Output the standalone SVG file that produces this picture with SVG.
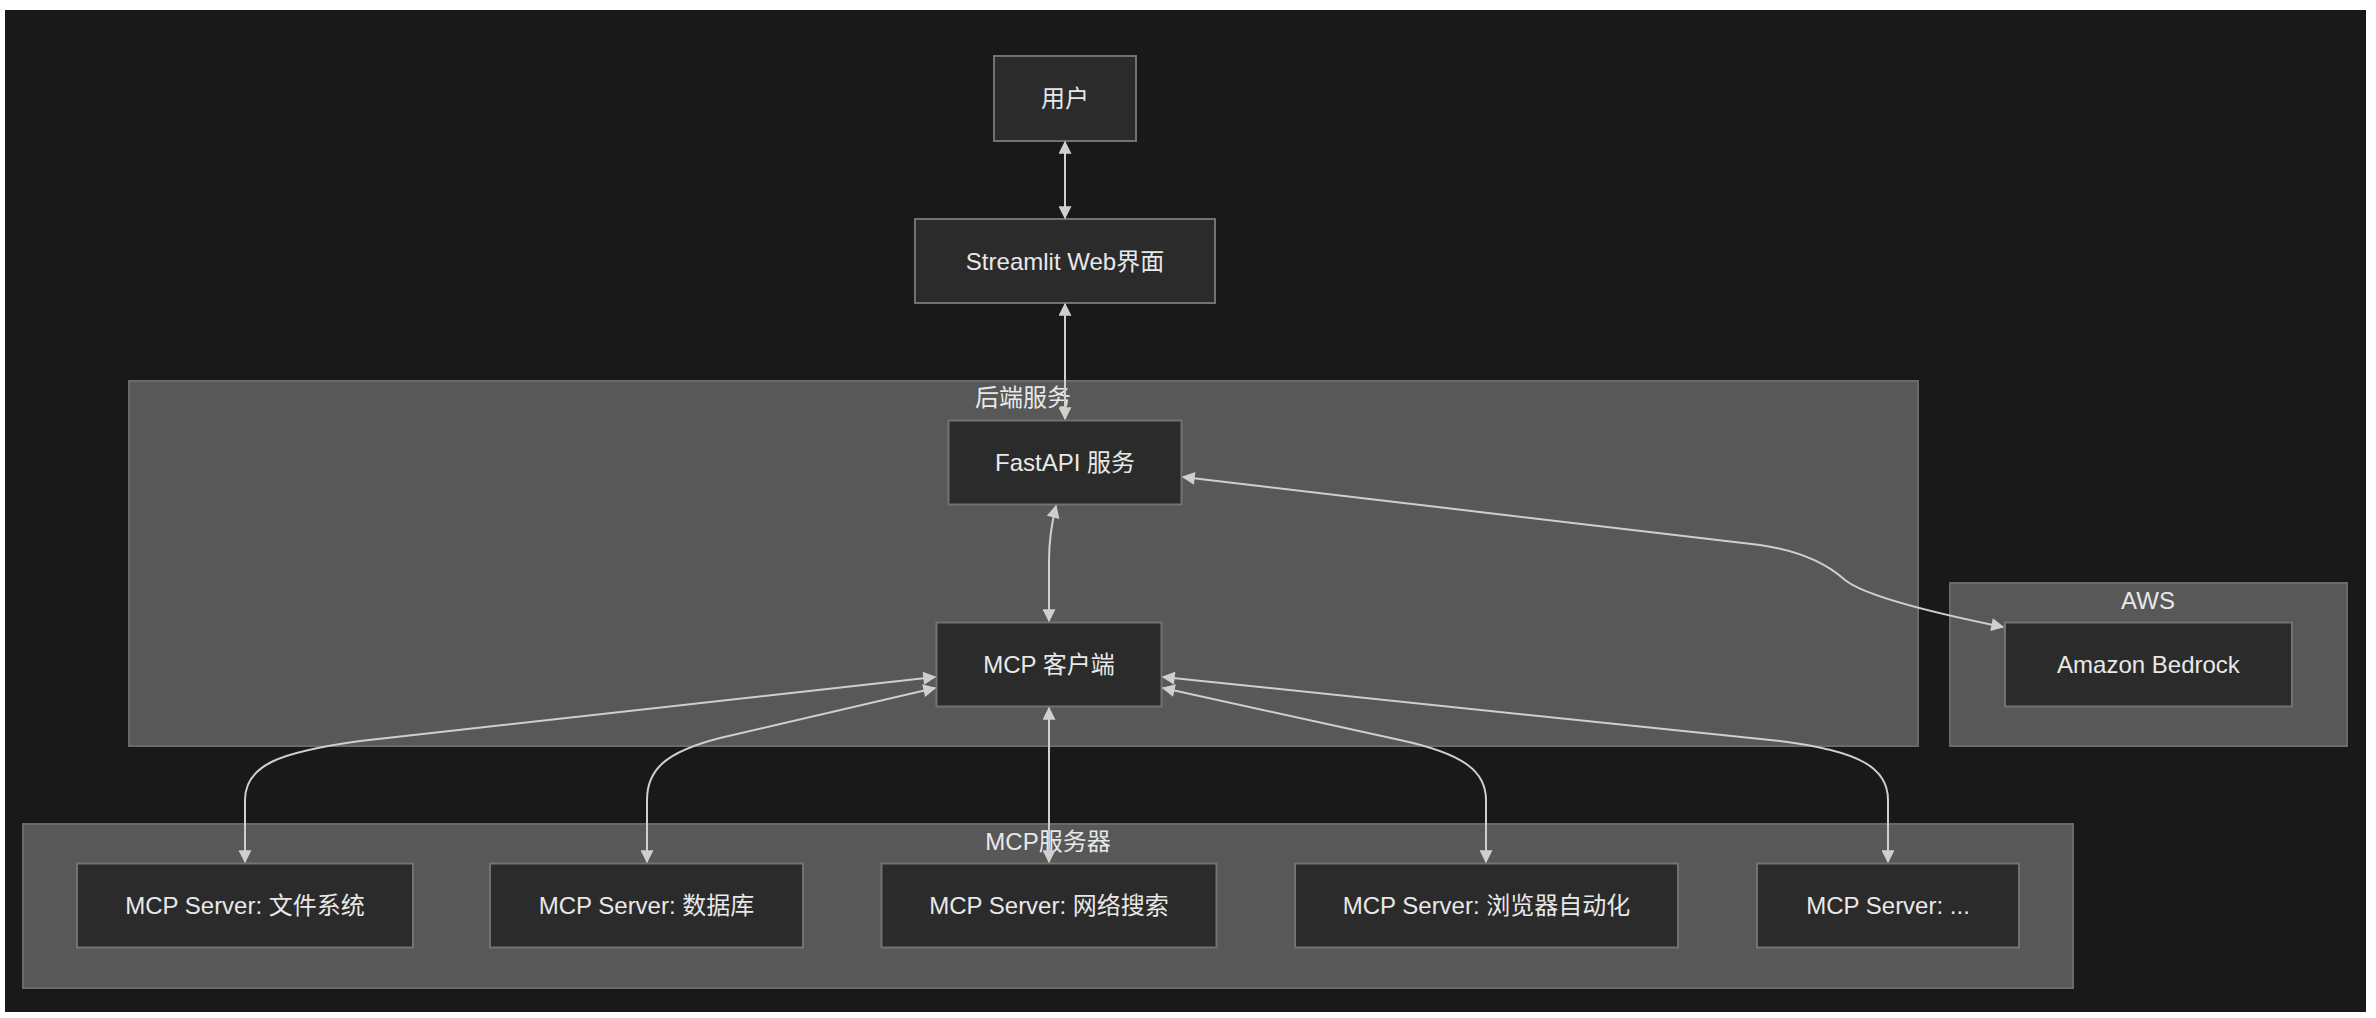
<svg xmlns="http://www.w3.org/2000/svg" width="2376" height="1018" viewBox="0 0 2376 1018">
<style>
text{font-family:"Liberation Sans","Noto Sans CJK SC",sans-serif;fill:#e8e8e8;font-size:24px;text-anchor:middle;dominant-baseline:central}
.cluster rect{fill:#585858;stroke:#6a6a6a;stroke-width:2}
.node rect{fill:#2b2b2b;stroke:#727272;stroke-width:2}
.edges path{fill:none;stroke:#cfcfcf;stroke-width:2;marker-start:url(#arr);marker-end:url(#arr)}
</style>
<defs>
<marker id="arr" viewBox="0 0 10 10" refX="9" refY="5" markerUnits="userSpaceOnUse" markerWidth="14" markerHeight="13" orient="auto-start-reverse">
<path d="M0,0 L10,5 L0,10 z" fill="#cfcfcf"/>
</marker>
</defs>
<rect x="0" y="0" width="2376" height="1018" fill="#ffffff"/>
<rect x="5" y="10" width="2361" height="1002" fill="#191919"/>

<g id="cluster-backend" class="cluster">
<rect x="129" y="381" width="1789" height="365"/>
<text x="1023" y="397">后端服务</text>
</g>
<g id="cluster-aws" class="cluster">
<rect x="1950" y="583" width="397" height="163"/>
<text x="2148" y="600">AWS</text>
</g>
<g id="cluster-mcp" class="cluster">
<rect x="23" y="824" width="2050" height="164"/>
<text x="1048" y="841">MCP服务器</text>
</g>

<g id="node-user" class="node">
<rect x="994" y="56" width="142" height="85"/>
<text x="1065" y="98.5">用户</text>
</g>
<g id="node-streamlit" class="node">
<rect x="915" y="219" width="300" height="84"/>
<text x="1065" y="261">Streamlit Web界面</text>
</g>
<g id="node-fastapi" class="node">
<rect x="948.5" y="420.5" width="233" height="84"/>
<text x="1065" y="462.5">FastAPI 服务</text>
</g>
<g id="node-client" class="node">
<rect x="936.5" y="622.5" width="225" height="84"/>
<text x="1049" y="664.5">MCP 客户端</text>
</g>
<g id="node-bedrock" class="node">
<rect x="2005" y="622.5" width="287" height="84"/>
<text x="2148.5" y="664.5">Amazon Bedrock</text>
</g>
<g id="node-fs" class="node">
<rect x="77" y="863.5" width="336" height="84"/>
<text x="245" y="905.5">MCP Server: 文件系统</text>
</g>
<g id="node-db" class="node">
<rect x="490" y="863.5" width="313" height="84"/>
<text x="646.5" y="905.5">MCP Server: 数据库</text>
</g>
<g id="node-search" class="node">
<rect x="881.5" y="863.5" width="335" height="84"/>
<text x="1049" y="905.5">MCP Server: 网络搜索</text>
</g>
<g id="node-browser" class="node">
<rect x="1295" y="863.5" width="383" height="84"/>
<text x="1486.5" y="905.5">MCP Server: 浏览器自动化</text>
</g>
<g id="node-more" class="node">
<rect x="1757" y="863.5" width="262" height="84"/>
<text x="1888" y="905.5">MCP Server: ...</text>
</g>

<g id="edges" class="edges">
<path d="M1065,142 L1065,218"/>
<path d="M1065,304 L1065,419"/>
<path d="M1056,506 C1051,526 1049,541 1049,561 L1049,621"/>
<path d="M1183,477 L1760,545 Q1815,553 1845,580 Q1870,600 2003,627"/>
<path d="M935,677 L360,741 C280,752 245,765 245,800 L245,862"/>
<path d="M935,688 L720,738 C665,752 647,770 647,800 L647,862"/>
<path d="M1049,708 L1049,862"/>
<path d="M1163,688 L1400,740 C1465,754 1486,772 1486,800 L1486,862"/>
<path d="M1163,677 L1780,741 C1860,751 1888,768 1888,800 L1888,862"/>
</g>
</svg>
